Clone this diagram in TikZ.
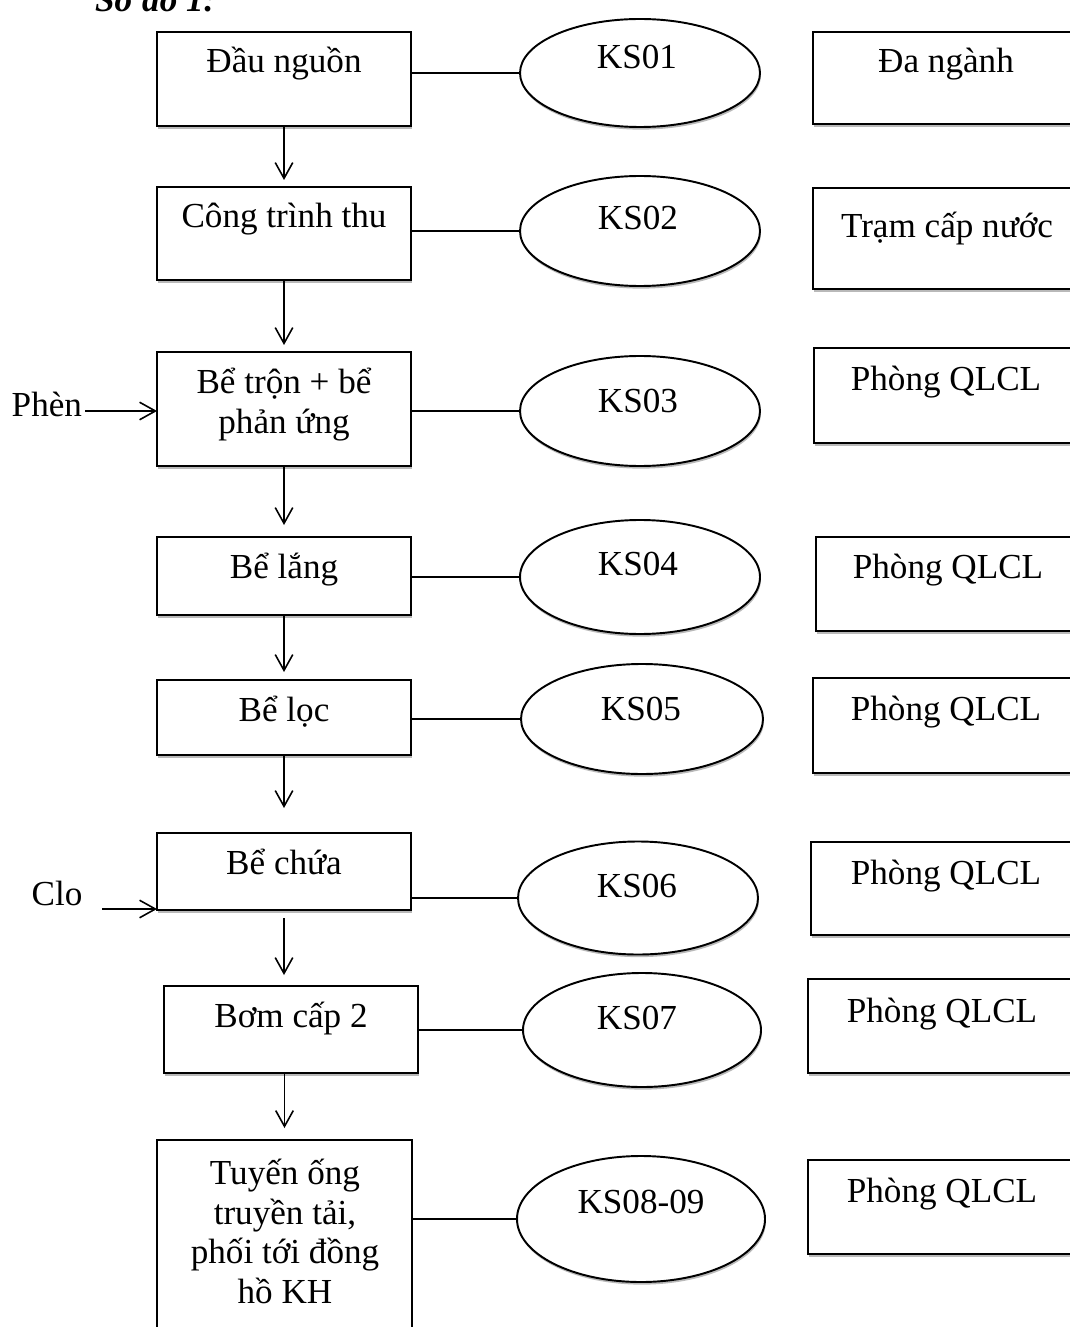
\documentclass[tikz,border=0pt]{standalone}
\usepackage{fontspec}
\setmainfont{Liberation Serif}
\usetikzlibrary{shapes.geometric,shadows,arrows.meta,calc}
\newcommand\rbox[5]{\node[boxst, minimum width={(#3-#2)*0.02cm}, minimum height={(#5-#4)*0.02cm}] (#1) at ({(#2+#3)/2},{(#4+#5)/2}) {};}
\newcommand\rell[5]{\node[ellst, minimum width={#4*0.02cm}, minimum height={#5*0.02cm}] (#1) at (#2,#3) {};}
\begin{document}
\begin{tikzpicture}[x=0.02cm, y=-0.02cm,
  font=\fontsize{20}{22.4}\selectfont,
  boxst/.style={draw, line width=1.1pt, fill=white, inner sep=0pt, outer sep=0pt,
    drop shadow={shadow xshift=0.5pt, shadow yshift=-1.5pt, fill=gray!55, opacity=1}},
  ellst/.style={ellipse, boxst},
  txt/.style={inner sep=0pt, outer sep=0pt, anchor=base, align=center},
  ln/.style={line width=0.9pt},
  arr/.style={line width=0.9pt, -{Straight Barb[length=9pt, width=10pt, line width=0.9pt]}}]
\useasboundingbox[fill=white] (0,0) rectangle (1070,1327);

% title (cut by the top edge)
\node[txt, anchor=base west, font=\fontsize{20}{22.4}\selectfont\bfseries\itshape] (title) at (95,12) {Sơ đồ 1:};

% left process boxes
\rbox{b1}{157}{411}{32}{126}
\rbox{b2}{157}{411}{187}{280}
\rbox{b3}{157}{411}{352}{466}
\rbox{b4}{157}{411}{537}{615}
\rbox{b5}{157}{411}{680}{755}
\rbox{b6}{157}{411}{833}{910}
\rbox{b7}{164}{418}{986}{1073}
\rbox{b8}{157}{412}{1140}{1360}

% ellipses
\rell{e1}{640}{73}{240}{108}
\rell{e2}{640}{231}{240}{110}
\rell{e3}{640}{411}{240}{110}
\rell{e4}{640}{577}{240}{114}
\rell{e5}{642}{719}{242}{110}
\rell{e6}{638}{898}{240}{113}
\rell{e7}{642}{1030}{238}{114}
\rell{e8}{641}{1219}{248}{126}

% right boxes (cut by the right edge)
\rbox{r1}{813}{1090}{32}{124}
\rbox{r2}{813}{1090}{188}{289}
\rbox{r3}{814}{1090}{348}{443}
\rbox{r4}{816}{1090}{537}{631}
\rbox{r5}{813}{1090}{678}{773}
\rbox{r6}{811}{1090}{842}{935}
\rbox{r7}{808}{1090}{979}{1073}
\rbox{r8}{808}{1090}{1160}{1254}

% texts in left boxes (multi-line nodes: base = last line)
\node[txt] (t1) at (284,73) {Đầu nguồn};
\node[txt] (t2) at (284,228) {Công trình thu};
\node[txt] (t3) at (284,433) {Bể trộn + bể\\phản ứng};
\node[txt] (t4) at (284,578) {Bể lắng};
\node[txt] (t5) at (284,721) {Bể lọc};
\node[txt] (t6) at (284,874) {Bể chứa};
\node[txt] (t7) at (291,1027) {Bơm cấp 2};
\node[txt] (t8) at (285,1303) {Tuyến ống\\truyền tải,\\phối tới đồng\\hồ KH};

% texts in ellipses
\node[txt] (k1) at (637,69) {KS01};
\node[txt] (k2) at (638,230) {KS02};
\node[txt] (k3) at (638,412) {KS03};
\node[txt] (k4) at (638,575) {KS04};
\node[txt] (k5) at (641,720) {KS05};
\node[txt] (k6) at (637,897) {KS06};
\node[txt] (k7) at (637,1029) {KS07};
\node[txt] (k8) at (641,1213) {KS08-09};

% texts in right boxes
\node[txt] (s1) at (946,73) {Đa ngành};
\node[txt] (s2) at (947,238) {Trạm cấp nước};
\node[txt] (s3) at (946,391) {Phòng QLCL};
\node[txt] (s4) at (948,578) {Phòng QLCL};
\node[txt] (s5) at (946,720) {Phòng QLCL};
\node[txt] (s6) at (946,884) {Phòng QLCL};
\node[txt] (s7) at (942,1022) {Phòng QLCL};
\node[txt] (s8) at (942,1202) {Phòng QLCL};

% connectors box -- ellipse
\foreach \i in {1,...,8}{
  \draw[ln] (b\i.east |- e\i.west) -- (e\i.west);
}

% flow arrows
\draw[arr] (b1.south) -- ($(b2.north)+(0,-7)$);
\draw[arr] (b2.south) -- ($(b3.north)+(0,-7)$);
\draw[arr] (b3.south) -- ($(b4.north)+(0,-12)$);
\draw[arr] (b4.south) -- ($(b5.north)+(0,-8)$);
\draw[arr] (b5.south) -- ($(b6.north)+(0,-25)$);
\draw[arr] ($(b6.south)+(0,8)$) -- ($(b6.south |- b7.north)+(0,-11)$);
\draw[arr] (b7.south -| b8.north) -- ($(b8.north)+(0,-12)$);

% inputs
\node[txt, anchor=base east] (phen) at (82,417) {Phèn};
\coordinate (phenout) at ($(phen.base east)+(3,-6)$);
\draw[arr] (phenout) -- (phenout -| b3.west);
\node[txt] (clo) at (57,905) {Clo};
\coordinate (cloout) at (102,909);
\draw[arr] (cloout) -- (cloout -| b6.west);
\end{tikzpicture}
\end{document}
